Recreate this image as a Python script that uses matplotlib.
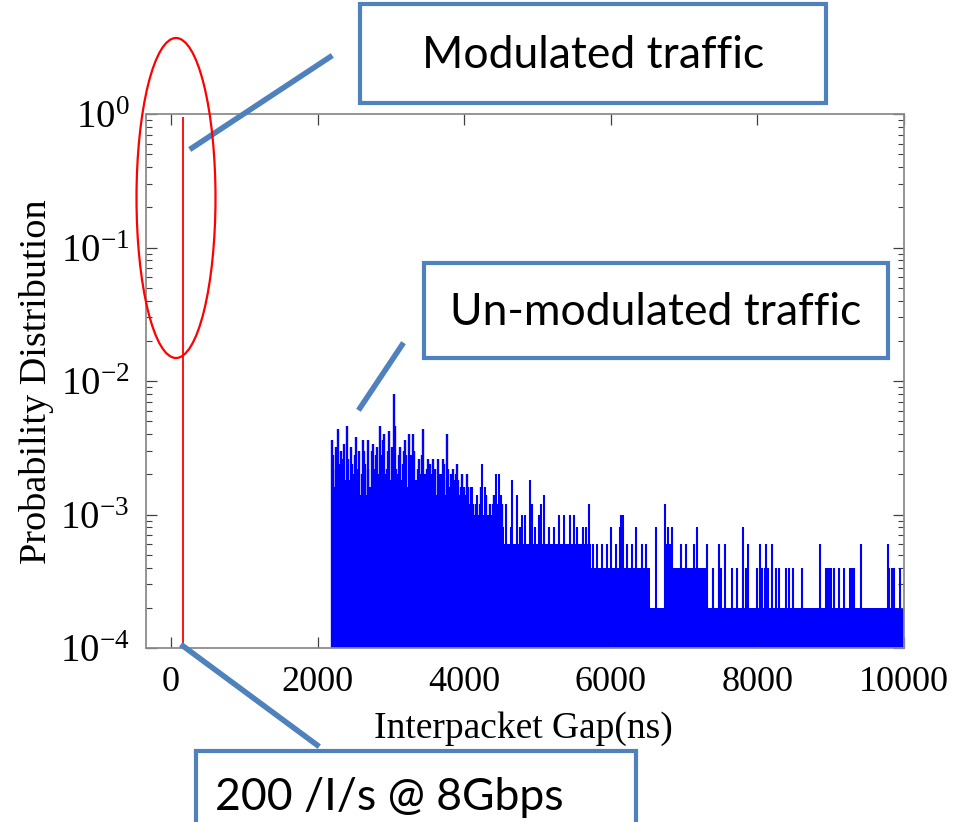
import matplotlib
matplotlib.use("Agg")
import matplotlib.pyplot as plt
from matplotlib.patches import Rectangle, Ellipse
from matplotlib.lines import Line2D

# ---- data ----
# modulated traffic: a single gap value
modulated_x = 165
modulated_p = 0.95

# un-modulated traffic: solid "floor" of the histogram, by segment
floor_start = [2200, 2830, 3060, 3150, 3310, 3670, 3900, 4170, 4540, 5720, 6540, 6720, 6840, 7330]
floor_end = [2830, 3060, 3150, 3310, 3670, 3900, 4170, 4540, 5720, 6540, 6720, 6840, 7330, 10000]
floor_level = [6e-4, 8e-4, 6e-4, 8e-4, 6e-4, 1.2e-3, 6e-4, 8e-4, 4e-4, 4e-4, 2e-4, 6e-4, 4e-4, 2e-4]

# un-modulated traffic: tallest bins
peak_x = [
    2202, 2216, 2240, 2275, 2295, 2320, 2340, 2352, 2380, 2407, 2430, 2466, 2490, 2525,
    2545, 2557, 2590, 2616, 2650, 2684, 2710, 2739, 2760, 2794, 2830, 2853, 2880, 2912,
    2950, 2980, 3010, 3044, 3058, 3090, 3126, 3160, 3194, 3220, 3249, 3280, 3308, 3340,
    3385, 3410, 3444, 3480, 3513, 3550, 3581, 3620, 3649, 3680, 3708, 3730, 3763, 3800,
    3845, 3870, 3900, 3930, 3968, 4000, 4045, 4070, 4095,
]
peak_p = [
    3.6e-3, 2.2e-3, 1.6e-3, 4.4e-3, 2.0e-3, 3.0e-3, 1.2e-3, 2.6e-3, 1.8e-3, 4.6e-3, 1.4e-3, 2.4e-3, 2.0e-3, 3.8e-3,
    1.6e-3, 2.2e-3, 1.2e-3, 3.6e-3, 2.4e-3, 3.6e-3, 1.6e-3, 3.0e-3, 2.0e-3, 2.8e-3, 1.4e-3, 4.6e-3, 2.8e-3, 4.0e-3,
    2.2e-3, 4.2e-3, 3.2e-3, 8.0e-3, 4.6e-3, 2.0e-3, 3.2e-3, 2.4e-3, 3.6e-3, 1.6e-3, 4.0e-3, 2.8e-3, 4.0e-3, 1.8e-3,
    2.6e-3, 2.0e-3, 4.4e-3, 1.6e-3, 2.6e-3, 2.0e-3, 2.6e-3, 1.4e-3, 2.6e-3, 2.0e-3, 2.6e-3, 2.4e-3, 4.0e-3, 1.6e-3,
    2.2e-3, 1.8e-3, 2.4e-3, 1.4e-3, 2.0e-3, 1.6e-3, 2.0e-3, 1.2e-3, 1.6e-3,
]

# un-modulated traffic: medium bins between the peaks
mid_x = [
    2208, 2228, 2255, 2285, 2310, 2330, 2365, 2395, 2420, 2445, 2455, 2478, 2505, 2515,
    2535, 2570, 2580, 2605, 2630, 2640, 2665, 2695, 2725, 2750, 2775, 2785, 2810, 2840,
    2865, 2895, 2925, 2940, 2965, 2995, 3025, 3035, 3070, 3080, 3105, 3115, 3140, 3175,
    3185, 3210, 3235, 3262, 3295, 3320, 3355, 3370, 3398, 3425, 3460, 3470, 3495, 3530,
    3540, 3565, 3595, 3605, 3635, 3660, 3695, 3720, 3745, 3780, 3790, 3815, 3830, 3858,
    3885, 3915, 3945, 3955, 3985, 4015, 4030, 4058, 4085, 4120, 4140, 4160, 4190, 4210,
    4230, 4265, 4300, 4315, 4350, 4370, 4405, 4420, 4455, 4485, 4520,
]
mid_p = [
    2.8e-3, 1.2e-3, 3.2e-3, 1.0e-3, 2.4e-3, 1.6e-3, 3.4e-3, 1.2e-3, 2.6e-3, 1.8e-3, 3.2e-3, 1.2e-3, 2.8e-3, 1.4e-3,
    1.0e-3, 3.0e-3, 1.4e-3, 2.0e-3, 1.0e-3, 3.0e-3, 1.4e-3, 2.2e-3, 1.2e-3, 3.4e-3, 1.2e-3, 2.2e-3, 3.2e-3, 2.0e-3,
    1.6e-3, 3.6e-3, 2.0e-3, 1.4e-3, 3.0e-3, 1.8e-3, 2.4e-3, 1.4e-3, 2.2e-3, 1.2e-3, 2.8e-3, 1.4e-3, 1.8e-3, 3.0e-3,
    1.2e-3, 2.8e-3, 1.4e-3, 2.2e-3, 1.6e-3, 3.0e-3, 1.4e-3, 2.2e-3, 1.2e-3, 2.8e-3, 2.0e-3, 1.2e-3, 2.2e-3, 1.4e-3,
    2.4e-3, 1.6e-3, 1.8e-3, 2.2e-3, 1.2e-3, 2.0e-3, 1.6e-3, 1.8e-3, 1.4e-3, 2.2e-3, 1.6e-3, 2.0e-3, 1.4e-3, 1.2e-3,
    2.0e-3, 1.8e-3, 1.2e-3, 1.6e-3, 1.2e-3, 1.4e-3, 1.0e-3, 1.6e-3, 1.0e-3, 1.2e-3, 1.0e-3, 1.2e-3, 1.0e-3, 1.2e-3,
    1.6e-3, 1.0e-3, 1.4e-3, 1.0e-3, 1.2e-3, 1.0e-3, 1.4e-3, 1.0e-3, 1.2e-3, 1.0e-3, 1.2e-3,
]

# un-modulated traffic: low bins in the tail
low_x = [
    4105, 4173, 4250, 4287, 4332, 4387, 4437, 4469, 4500, 4560, 4573, 4600, 4640, 4651,
    4700, 4719, 4760, 4787, 4800, 4833, 4870, 4901, 4924, 4950, 4969, 5000, 5015, 5047,
    5060, 5092, 5130, 5151, 5180, 5220, 5250, 5288, 5320, 5356, 5400, 5438, 5460, 5493,
    5520, 5538, 5580, 5620, 5640, 5665, 5697, 5756, 5811, 5879, 5947, 6002, 6075, 6120,
    6143, 6161, 6220, 6289, 6343, 6425, 6484, 6616, 6744, 6775, 6835, 6957, 7026, 7130,
    7176, 7312, 7472, 7563, 7799, 7872, 8040, 8123, 8200, 8860, 9420, 9779,
    4580, 4620, 4660, 4680, 4740, 4780, 4820, 4850, 4890, 4910, 4940, 4985, 5030, 5075,
    5110, 5165, 5200, 5235, 5270, 5300, 5340, 5370, 5420, 5480, 5505, 5555, 5600, 5680, 5710,
    7400, 7500, 7650, 7722, 7850, 7995, 8060, 8100, 8150, 8260, 8300, 8390, 8430, 8480,
    8610, 8930, 8950, 8980, 9010, 9040, 9110, 9180, 9260, 9290, 9320, 9800, 9830, 9860, 9950,
]
low_p = [
    1.6e-3, 1.4e-3, 2.4e-3, 1.6e-3, 1.0e-3, 1.2e-3, 2.0e-3, 2.0e-3, 1.4e-3, 6.0e-4, 1.2e-3, 6.0e-4, 8.0e-4, 1.8e-3,
    6.0e-4, 1.4e-3, 8.0e-4, 1.0e-3, 6.0e-4, 1.0e-3, 6.0e-4, 1.8e-3, 1.2e-3, 6.0e-4, 8.0e-4, 6.0e-4, 1.0e-3, 1.2e-3,
    6.0e-4, 1.4e-3, 6.0e-4, 8.0e-4, 6.0e-4, 8.0e-4, 6.0e-4, 1.0e-3, 6.0e-4, 1.0e-3, 6.0e-4, 1.0e-3, 6.0e-4, 1.0e-3,
    6.0e-4, 8.0e-4, 6.0e-4, 8.0e-4, 6.0e-4, 8.0e-4, 1.2e-3, 6.0e-4, 6.0e-4, 6.0e-4, 6.0e-4, 8.0e-4, 6.0e-4, 8.0e-4,
    1.0e-3, 1.0e-3, 6.0e-4, 6.0e-4, 8.0e-4, 6.0e-4, 6.0e-4, 8.0e-4, 1.2e-3, 8.0e-4, 8.0e-4, 6.0e-4, 6.0e-4, 6.0e-4,
    8.0e-4, 6.0e-4, 6.0e-4, 6.0e-4, 8.0e-4, 6.0e-4, 6.0e-4, 6.0e-4, 6.0e-4, 6.0e-4, 6.0e-4, 6.0e-4,
    6e-4, 6e-4, 6e-4, 6e-4, 6e-4, 6e-4, 6e-4, 6e-4, 6e-4, 6e-4, 6e-4, 6e-4, 6e-4, 6e-4,
    6e-4, 6e-4, 6e-4, 6e-4, 6e-4, 6e-4, 6e-4, 6e-4, 6e-4, 6e-4, 6e-4, 6e-4, 6e-4, 6e-4, 6e-4,
    4e-4, 4e-4, 4e-4, 4e-4, 4e-4, 4e-4, 4e-4, 4e-4, 4e-4, 4e-4, 4e-4, 4e-4, 4e-4, 4e-4,
    4e-4, 4e-4, 4e-4, 4e-4, 4e-4, 4e-4, 4e-4, 4e-4, 4e-4, 4e-4, 4e-4, 4e-4, 4e-4, 4e-4, 4e-4,
]

x_ticks = [0, 2000, 4000, 6000, 8000, 10000]
y_ticks = [1e-4, 1e-3, 1e-2, 1e-1, 1e0]

plt.rcParams["font.family"] = "Liberation Serif"
plt.rcParams["mathtext.fontset"] = "stix"
plt.rcParams["axes.unicode_minus"] = False

W, H = 959, 822
fig = plt.figure(figsize=(W / 100, H / 100), dpi=100)
ax = fig.add_axes([146 / W, 1 - 648 / H, 758 / W, 534 / H])


def fx(px):
    return px / W


def fy(py):
    return 1 - py / H


# histogram floor as bars, individual bins as lines
widths = [e - s for s, e in zip(floor_start, floor_end)]
heights = [lv - 1e-4 for lv in floor_level]
ax.bar(floor_start, heights, width=widths, bottom=1e-4, align="edge", color="#0000ff", linewidth=0)
ax.vlines(peak_x, 1e-4, peak_p, color="#0000ff", linewidth=1.7)
ax.vlines(mid_x, 1e-4, mid_p, color="#0000ff", linewidth=1.7)
ax.vlines(low_x, 1e-4, low_p, color="#0000ff", linewidth=1.5)
ax.vlines(modulated_x, 1e-4, modulated_p, color="red", linewidth=1.3)

ax.set_yscale("log")
ax.set_xlim(-340, 10000)
ax.set_ylim(1e-4, 1)
ax.set_xticks(x_ticks)
ax.set_yticks(y_ticks)
ax.tick_params(which="both", direction="in", top=True, right=True, color="#404040")
ax.tick_params(axis="x", labelsize=26, pad=13)
ax.tick_params(axis="y", labelsize=28, pad=12)
ax.tick_params(which="major", length=8, width=0.9)
ax.tick_params(which="minor", length=4.5, width=0.8)
for sp in ax.spines.values():
    sp.set_color("#8c8c8c")
    sp.set_linewidth(1.3)

fig.text(fx(37), fy(382), "Probability Distribution", rotation=90, ha="center", va="center", fontsize=27.5)
fig.text(fx(523), fy(729), "Interpacket Gap(ns)", ha="center", va="center", fontsize=27)

# callout boxes
box_color = "#4f81bd"
boxes = [
    ((360, 4, 826, 103), "Modulated traffic", "center"),
    ((424, 263, 888, 358), "Un-modulated traffic", "center"),
    ((196, 751, 636, 840), "200 /I/s @ 8Gbps", "left"),
]
for (x0, y0, x1, y1), label, align in boxes:
    fig.add_artist(Rectangle((fx(x0), fy(y1)), (x1 - x0) / W, (y1 - y0) / H, transform=fig.transFigure,
                             facecolor="white", edgecolor=box_color, linewidth=3, zorder=5))
    if align == "center":
        fig.text(fx((x0 + x1) / 2), fy((y0 + y1) / 2 + 2), label, ha="center", va="center",
                 fontsize=32, family="Lato", zorder=6)
    else:
        fig.text(fx(215), fy(797), label, ha="left", va="center", fontsize=32, family="Lato", zorder=6)

# connector lines
for (x0, y0), (x1, y1) in [((330, 57), (192, 148)), ((402, 345), (360, 408)), ((183, 646), (317, 745))]:
    fig.add_artist(Line2D([fx(x0), fx(x1)], [fy(y0), fy(y1)], transform=fig.transFigure,
                          color=box_color, linewidth=4, zorder=4))

# red ellipse around the modulated peak
fig.add_artist(Ellipse((fx(176), fy(198)), 79 / W, 320 / H, transform=fig.transFigure,
                       fill=False, edgecolor="red", linewidth=1.6, zorder=4))

fig.savefig("out.png", dpi=100)
